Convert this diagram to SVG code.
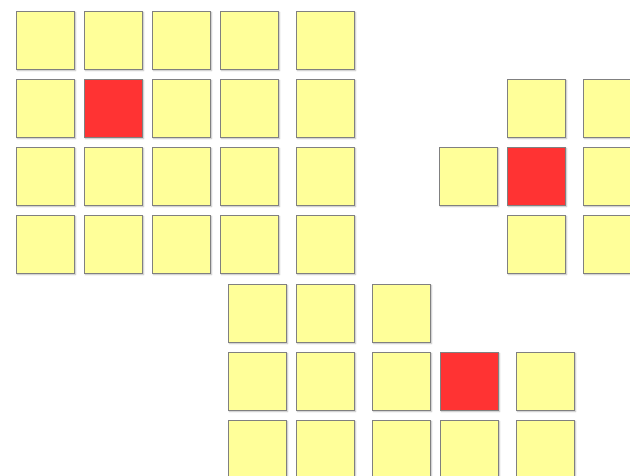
<svg xmlns="http://www.w3.org/2000/svg" width="630" height="476" viewBox="0 0 630 476">
<style>
.s{fill:none;stroke:#d4d4d4;stroke-width:1.5}
.y{fill:#ffff99;stroke:#808080;stroke-width:1}
.r{fill:#ff3333;stroke:#808080;stroke-width:1}
</style>
<defs>
<g id="sy"><rect class="s" x="1.5" y="1.5" width="58" height="58"/><rect class="y" x="0.5" y="0.5" width="58" height="58"/></g>
<g id="sr"><rect class="s" x="1.5" y="1.5" width="58" height="58"/><rect class="r" x="0.5" y="0.5" width="58" height="58"/></g>
</defs>
<rect width="630" height="476" fill="#ffffff"/>
<g id="clusterA">
<g id="a11"><use href="#sy" x="16" y="11"/></g>
<g id="a12"><use href="#sy" x="84" y="11"/></g>
<g id="a13"><use href="#sy" x="152" y="11"/></g>
<g id="a14"><use href="#sy" x="220" y="11"/></g>
<g id="a15"><use href="#sy" x="296" y="11"/></g>
<g id="a21"><use href="#sy" x="16" y="79"/></g>
<g id="a22"><use href="#sr" x="84" y="79"/></g>
<g id="a23"><use href="#sy" x="152" y="79"/></g>
<g id="a24"><use href="#sy" x="220" y="79"/></g>
<g id="a25"><use href="#sy" x="296" y="79"/></g>
<g id="a31"><use href="#sy" x="16" y="147"/></g>
<g id="a32"><use href="#sy" x="84" y="147"/></g>
<g id="a33"><use href="#sy" x="152" y="147"/></g>
<g id="a34"><use href="#sy" x="220" y="147"/></g>
<g id="a35"><use href="#sy" x="296" y="147"/></g>
<g id="a41"><use href="#sy" x="16" y="215"/></g>
<g id="a42"><use href="#sy" x="84" y="215"/></g>
<g id="a43"><use href="#sy" x="152" y="215"/></g>
<g id="a44"><use href="#sy" x="220" y="215"/></g>
<g id="a45"><use href="#sy" x="296" y="215"/></g>
</g>
<g id="clusterB">
<g id="b12"><use href="#sy" x="507" y="79"/></g>
<g id="b13"><use href="#sy" x="583" y="79"/></g>
<g id="b21"><use href="#sy" x="439" y="147"/></g>
<g id="b22"><use href="#sr" x="507" y="147"/></g>
<g id="b23"><use href="#sy" x="583" y="147"/></g>
<g id="b32"><use href="#sy" x="507" y="215"/></g>
<g id="b33"><use href="#sy" x="583" y="215"/></g>
</g>
<g id="clusterC">
<g id="c11"><use href="#sy" x="228" y="284"/></g>
<g id="c12"><use href="#sy" x="296" y="284"/></g>
<g id="c13"><use href="#sy" x="372" y="284"/></g>
<g id="c21"><use href="#sy" x="228" y="352"/></g>
<g id="c22"><use href="#sy" x="296" y="352"/></g>
<g id="c23"><use href="#sy" x="372" y="352"/></g>
<g id="c24"><use href="#sr" x="440" y="352"/></g>
<g id="c25"><use href="#sy" x="516" y="352"/></g>
<g id="c31"><use href="#sy" x="228" y="420"/></g>
<g id="c32"><use href="#sy" x="296" y="420"/></g>
<g id="c33"><use href="#sy" x="372" y="420"/></g>
<g id="c34"><use href="#sy" x="440" y="420"/></g>
<g id="c35"><use href="#sy" x="516" y="420"/></g>
</g>
<g id="connectors"/>
</svg>
